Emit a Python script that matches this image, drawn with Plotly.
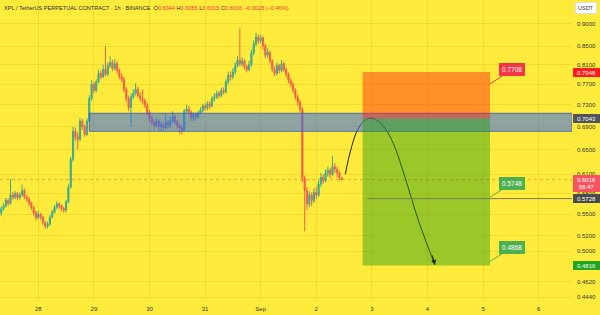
import math
import pandas as pd
import plotly.graph_objects as go

# ---------------- data ----------------
first_time = "2025-08-27 08:00"
first_open = 0.552
closes = [0.558,0.562,0.570,0.566,0.578,0.575,0.580,0.574,0.578,0.585,
          0.575,0.572,0.566,0.560,0.552,0.545,0.550,0.546,0.538,0.533,
          0.536,0.546,0.553,0.560,0.565,0.562,0.558,0.556,0.568,0.590,
          0.634,0.682,0.672,0.668,0.700,0.690,0.676,0.700,0.742,0.770,
          0.758,0.775,0.792,0.785,0.800,0.790,0.808,0.815,0.802,0.812,
          0.798,0.786,0.780,0.760,0.742,0.725,0.745,0.752,0.760,0.748,
          0.742,0.738,0.730,0.716,0.705,0.698,0.692,0.700,0.690,0.694,
          0.688,0.698,0.692,0.700,0.708,0.698,0.692,0.688,0.684,0.718,
          0.722,0.716,0.705,0.712,0.708,0.715,0.720,0.728,0.724,0.732,
          0.728,0.742,0.745,0.752,0.748,0.758,0.755,0.775,0.788,0.785,
          0.795,0.808,0.820,0.812,0.818,0.806,0.800,0.810,0.835,0.855,
          0.870,0.862,0.868,0.850,0.830,0.836,0.818,0.800,0.792,0.808,
          0.798,0.812,0.800,0.790,0.778,0.770,0.758,0.745,0.735,0.722,
          0.604,0.585,0.565,0.578,0.570,0.582,0.578,0.595,0.605,0.600,
          0.612,0.616,0.610,0.622,0.618,0.612,0.6044,0.6016]
highs = [0.561,0.566,0.574,0.573,0.603,0.583,0.584,0.583,0.582,0.594,
         0.588,0.578,0.575,0.568,0.562,0.555,0.555,0.552,0.548,0.541,
         0.540,0.549,0.556,0.563,0.569,0.567,0.564,0.561,0.571,0.594,
         0.638,0.690,0.688,0.680,0.706,0.704,0.694,0.705,0.748,0.778,
         0.774,0.780,0.800,0.798,0.810,0.850,0.815,0.828,0.820,0.822,
         0.818,0.802,0.792,0.785,0.764,0.748,0.752,0.760,0.772,0.765,
         0.755,0.760,0.742,0.734,0.720,0.710,0.703,0.706,0.704,0.700,
         0.698,0.714,0.702,0.708,0.718,0.712,0.702,0.696,0.692,0.722,
         0.730,0.728,0.720,0.716,0.716,0.719,0.725,0.732,0.733,0.737,
         0.737,0.747,0.752,0.757,0.757,0.763,0.764,0.780,0.795,0.796,
         0.803,0.815,0.828,0.890,0.826,0.822,0.810,0.818,0.842,0.862,
         0.880,0.876,0.875,0.872,0.855,0.845,0.840,0.822,0.806,0.815,
         0.812,0.820,0.816,0.804,0.794,0.782,0.774,0.762,0.750,0.740,
         0.726,0.608,0.590,0.584,0.582,0.588,0.590,0.600,0.612,0.610,
         0.618,0.622,0.620,0.640,0.628,0.622,0.616,0.6055]
lows = [0.548,0.555,0.560,0.562,0.564,0.571,0.572,0.570,0.571,0.576,
        0.572,0.568,0.562,0.556,0.548,0.541,0.543,0.542,0.535,0.530,
        0.530,0.534,0.544,0.551,0.557,0.558,0.554,0.552,0.553,0.566,
        0.588,0.630,0.665,0.650,0.664,0.684,0.672,0.674,0.698,0.738,
        0.752,0.754,0.772,0.780,0.782,0.786,0.786,0.803,0.797,0.798,
        0.792,0.780,0.774,0.754,0.735,0.718,0.690,0.740,0.748,0.744,
        0.736,0.732,0.724,0.710,0.698,0.692,0.685,0.688,0.684,0.682,
        0.682,0.685,0.686,0.688,0.696,0.693,0.686,0.678,0.676,0.682,
        0.714,0.710,0.700,0.700,0.702,0.704,0.712,0.716,0.719,0.720,
        0.722,0.725,0.736,0.741,0.742,0.745,0.750,0.752,0.770,0.778,
        0.780,0.790,0.804,0.806,0.806,0.800,0.794,0.796,0.806,0.830,
        0.850,0.855,0.856,0.842,0.824,0.825,0.812,0.794,0.786,0.788,
        0.792,0.794,0.795,0.784,0.772,0.764,0.752,0.740,0.728,0.716,
        0.598,0.526,0.556,0.560,0.562,0.566,0.572,0.575,0.590,0.595,
        0.597,0.606,0.604,0.607,0.612,0.605,0.600,0.6015]

price_ticks = [0.9, 0.85, 0.81, 0.77, 0.73, 0.69, 0.65, 0.61, 0.58, 0.55, 0.52, 0.50, 0.462, 0.444]
date_ticks = ["2025-08-28", "2025-08-29", "2025-08-30", "2025-08-31", "2025-09-01",
              "2025-09-02", "2025-09-03", "2025-09-04", "2025-09-05", "2025-09-06"]
date_labels = ["28", "29", "30", "31", "Sep", "2", "3", "4", "5", "6"]

# drawings (trade idea)
zone_top, zone_bottom = 0.7143, 0.6817
zone_start = "2025-08-28 22:00"
entry, stop, target = 0.7043, 0.7948, 0.4816
pos_start, pos_end = "2025-09-02 20:00", "2025-09-05 03:00"
hline_level, hline_start = 0.5728, "2025-09-02 22:00"
last_price = 0.6016
arc_times = ["2025-09-02 12:31", "2025-09-02 13:49", "2025-09-02 15:17", "2025-09-02 17:27",
             "2025-09-02 20:17", "2025-09-02 22:52", "2025-09-03 02:04", "2025-09-03 05:40",
             "2025-09-03 09:14", "2025-09-03 12:52", "2025-09-03 16:26", "2025-09-03 20:02",
             "2025-09-03 23:40", "2025-09-04 03:14"]
arc_prices = [0.6099, 0.6329, 0.6551, 0.6811, 0.6989, 0.7051, 0.7020, 0.6871,
              0.6610, 0.6221, 0.5807, 0.5419, 0.5102, 0.4824]
callouts = [("0.7708", 0.7708, "#F23645"), ("0.5748", 0.5748, "#4CAF50"), ("0.4868", 0.4868, "#4CAF50")]
axis_labels = [("0.7948", stop, "#FF1A1A"), ("0.7043", entry, "#50535E"),
               ("0.5728", hline_level, "#4A4A4A"), ("0.4816", target, "#1FA51F")]

x_range = ["2025-08-27 07:28", "2025-09-06 14:24"]
y_range = [0.4406, 0.9576]

# ---------------- figure ----------------
times = pd.date_range(first_time, periods=len(closes), freq="h")
opens = [first_open] + closes[:-1]

BG = "#FFEB3B"
FONT = "Liberation Sans, Arial, sans-serif"

fig = go.Figure()
fig.add_trace(go.Candlestick(
    x=times, open=opens, high=highs, low=lows, close=closes,
    increasing=dict(line=dict(color="#26A69A", width=1), fillcolor="#26A69A"),
    decreasing=dict(line=dict(color="#EF5350", width=1), fillcolor="#EF5350"),
    whiskerwidth=0, showlegend=False, hoverinfo="skip", opacity=0.9))

shapes = [
    dict(type="line", xref="x", yref="y", x0=x_range[0], x1=x_range[1], y0=last_price, y1=last_price,
         line=dict(color="rgba(240,90,60,0.55)", width=1, dash="dot"), layer="below"),
    dict(type="rect", xref="x", yref="y", x0=zone_start, x1=x_range[1], y0=zone_bottom, y1=zone_top,
         fillcolor="rgba(51,104,242,0.55)", line=dict(color="rgba(60,90,190,0.8)", width=1), layer="above"),
    dict(type="rect", xref="x", yref="y", x0=pos_start, x1=pos_end, y0=entry, y1=stop,
         fillcolor="rgba(255,35,17,0.45)", line=dict(width=0), layer="above"),
    dict(type="rect", xref="x", yref="y", x0=pos_start, x1=pos_end, y0=target, y1=entry,
         fillcolor="rgba(33,158,18,0.45)", line=dict(width=0), layer="above"),
    dict(type="line", xref="x", yref="y", x0=hline_start, x1=x_range[1], y0=hline_level, y1=hline_level,
         line=dict(color="#7d7a55", width=1), layer="above"),
]

fig.add_trace(go.Scatter(x=arc_times, y=arc_prices, mode="lines",
                         line=dict(color="#222222", width=1, shape="spline"),
                         showlegend=False, hoverinfo="skip"))

annotations = []
header = ("XPL / TetherUS PERPETUAL CONTRACT · 1h · BINANCE&nbsp;&nbsp;"
          "O<span style='color:#F23645'>0.6044</span> "
          "H<span style='color:#F23645'>0.6055</span> "
          "L<span style='color:#F23645'>0.6015</span> "
          "C<span style='color:#F23645'>0.6016</span> "
          "<span style='color:#F23645'>−0.0028 (−0.46%)</span>")
annotations.append(dict(xref="paper", yref="paper", x=0, y=1, xanchor="left", yanchor="top",
                        xshift=2, yshift=-3, text=header, showarrow=False,
                        font=dict(family=FONT, size=5.6, color="#2a2e39")))
annotations.append(dict(xref="paper", yref="paper", x=1, y=1, xanchor="left", yanchor="top",
                        xshift=3, yshift=-2, text="USDT", showarrow=False, bgcolor="#FFFFFF",
                        bordercolor="#e0e0e0", borderwidth=1, borderpad=2,
                        font=dict(family=FONT, size=5.5, color="#333333")))
for txt, val, col in axis_labels:
    annotations.append(dict(xref="paper", yref="y", x=1, y=math.log10(val), xanchor="left",
                            yanchor="middle", xshift=1, text=txt, showarrow=False, bgcolor=col,
                            borderwidth=0, borderpad=1.5, width=24,
                            font=dict(family=FONT, size=6, color="#FFFFFF")))
annotations.append(dict(xref="paper", yref="y", x=1, y=math.log10(last_price), xanchor="left",
                        yanchor="top", xshift=1, yshift=4.5, text="0.6016<br>58:47", showarrow=False,
                        bgcolor="#F7525F", borderwidth=0, borderpad=1.5, width=24,
                        font=dict(family=FONT, size=6, color="#FFFFFF")))
for txt, val, col in callouts:
    annotations.append(dict(xref="x", yref="y", x=pos_end, y=math.log10(val), text=txt,
                            showarrow=True, arrowhead=0, arrowwidth=1, arrowcolor=col,
                            ax=22, ay=-14, bgcolor=col, bordercolor=col, borderwidth=1, borderpad=2,
                            font=dict(family=FONT, size=6.5, color="#FFFFFF")))
annotations.append(dict(xref="x", yref="y", x=arc_times[-1], y=math.log10(arc_prices[-1]),
                        ax=-3, ay=-11, showarrow=True, arrowhead=2, arrowsize=1, arrowwidth=1,
                        arrowcolor="#222222", text=""))

fig.update_layout(
    width=600, height=315, autosize=False,
    margin=dict(l=0, r=28, t=0, b=15),
    paper_bgcolor=BG, plot_bgcolor=BG,
    shapes=shapes, annotations=annotations, showlegend=False,
    font=dict(family=FONT, size=6, color="#333333"),
    xaxis=dict(type="date", range=x_range, rangeslider=dict(visible=False),
               tickvals=date_ticks, ticktext=date_labels, showgrid=True,
               gridcolor="rgba(200,150,0,0.18)", gridwidth=1, zeroline=False, showline=False,
               ticks="", ticklabelstandoff=4, tickfont=dict(size=6, color="#333333")),
    yaxis=dict(type="log", side="right", range=[math.log10(y_range[0]), math.log10(y_range[1])],
               tickvals=price_ticks, ticktext=[f"{v:.4f}" for v in price_ticks],
               showgrid=True, gridcolor="rgba(200,150,0,0.18)", gridwidth=1,
               zeroline=False, showline=False, ticks="", ticklabelstandoff=4,
               tickfont=dict(size=6, color="#333333")),
)

fig.write_html("out.html")
